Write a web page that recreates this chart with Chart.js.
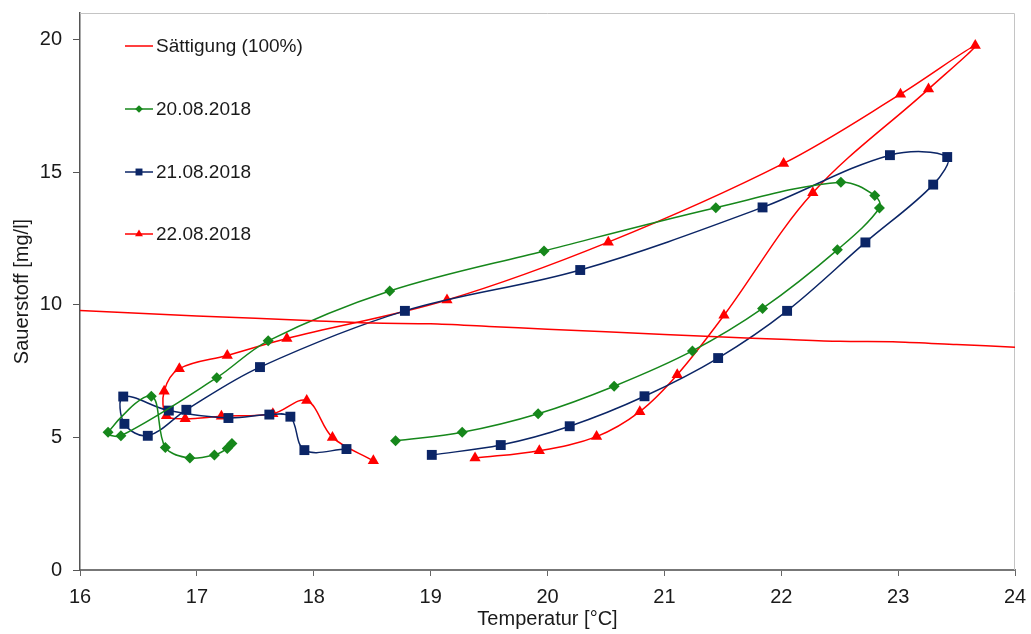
<!DOCTYPE html>
<html>
<head>
<meta charset="utf-8">
<script src="https://cdn.jsdelivr.net/npm/chart.js@4"></script>
<style>
  html, body { margin: 0; padding: 0; background: #fff; }
  #wrap { width: 1031px; height: 634px; position: relative; }
</style>
</head>
<body>
<div id="wrap"><canvas id="myChart"></canvas></div>
<script>
// tick labels
const xTicks = [16, 17, 18, 19, 20, 21, 22, 23, 24];
const yTicks = [0, 5, 10, 15, 20];

// saturation curve (100%)
const satTemp = [16, 17, 18, 18.5, 19, 19.5, 20, 21, 21.5, 22, 22.5, 23, 23.5, 24];
const satO2 = [9.78, 9.58, 9.40, 9.31, 9.28, 9.18, 9.08, 8.88, 8.78, 8.70, 8.62, 8.60, 8.50, 8.40];

// 20.08.2018
const temp20 = [18.70, 19.27, 19.92, 20.57, 21.24, 21.84, 22.48, 22.84, 22.80, 22.51, 21.44, 19.97, 18.65, 17.61, 17.17, 16.35, 16.24, 16.61, 16.73, 16.94, 17.15, 17.26, 17.30];
const o2_20 = [4.87, 5.19, 5.89, 6.93, 8.26, 9.86, 12.07, 13.65, 14.12, 14.62, 13.66, 12.03, 10.52, 8.64, 7.25, 5.06, 5.19, 6.55, 4.62, 4.22, 4.34, 4.58, 4.77];

// 21.08.2018
const temp21 = [19.01, 19.60, 20.19, 20.83, 21.46, 22.05, 22.72, 23.30, 23.42, 22.93, 21.84, 20.28, 18.78, 17.54, 16.91, 16.58, 16.38, 16.37, 16.76, 17.27, 17.62, 17.80, 17.92, 18.28];
const o2_21 = [4.34, 4.71, 5.42, 6.55, 7.99, 9.77, 12.35, 14.53, 15.57, 15.64, 13.67, 11.31, 9.77, 7.65, 6.04, 5.06, 5.51, 6.54, 6.01, 5.73, 5.86, 5.78, 4.52, 4.56];

// 22.08.2018
const temp22 = [19.38, 19.93, 20.42, 20.79, 21.11, 21.51, 22.27, 23.26, 23.66, 23.02, 22.02, 20.52, 19.14, 17.77, 17.26, 16.85, 16.72, 16.74, 16.90, 17.21, 17.65, 17.94, 18.16, 18.51];
const o2_22 = [4.22, 4.50, 5.03, 5.97, 7.36, 9.60, 14.22, 18.13, 19.77, 17.94, 15.33, 12.36, 10.18, 8.73, 8.09, 7.59, 6.74, 5.82, 5.70, 5.80, 5.89, 6.39, 5.00, 4.12];

const FONT = '"Liberation Sans", Arial, sans-serif';
const GREEN = '#16871b';
const BLUE = '#0b2566';
const RED = '#ff0000';

const toXY = (xs, ys) => xs.map((x, i) => ({ x: x, y: ys[i] }));

function marker(ctx, style, x, y, r) {
  ctx.beginPath();
  if (style === 'rect') {
    const s = r * Math.SQRT1_2;
    ctx.rect(x - s, y - s, 2 * s, 2 * s);
  } else if (style === 'rectRot') {
    ctx.moveTo(x, y - r); ctx.lineTo(x + r, y); ctx.lineTo(x, y + r); ctx.lineTo(x - r, y);
    ctx.closePath();
  } else if (style === 'triangle') {
    ctx.moveTo(x, y - r);
    ctx.lineTo(x + r * 0.866, y + r * 0.5);
    ctx.lineTo(x - r * 0.866, y + r * 0.5);
    ctx.closePath();
  }
  ctx.fill();
}

// legend inside the plot, one item per row with wide spacing
const innerLegend = {
  id: 'innerLegend',
  afterDraw(chart) {
    const ctx = chart.ctx;
    const rows = [46, 109, 172, 234];
    ctx.save();
    chart.data.datasets.forEach((ds, i) => {
      const y = rows[i];
      ctx.strokeStyle = ds.borderColor;
      ctx.lineWidth = 1.5;
      ctx.beginPath();
      ctx.moveTo(125, y);
      ctx.lineTo(153, y);
      ctx.stroke();
      if (ds.pointRadius > 0) {
        ctx.fillStyle = ds.pointBackgroundColor;
        marker(ctx, ds.pointStyle, 139, y, ds.pointRadius * 0.7);
      }
      ctx.fillStyle = '#1a1a1a';
      ctx.font = '19px ' + FONT;
      ctx.textBaseline = 'middle';
      ctx.textAlign = 'left';
      ctx.fillText(ds.label, 156, y + 1);
    });
    ctx.restore();
  }
};

// light frame on top and right of the plot area
const frame = {
  id: 'frame',
  beforeDatasetsDraw(chart) {
    const { ctx, chartArea: a } = chart;
    ctx.save();
    ctx.strokeStyle = '#c4c4c4';
    ctx.lineWidth = 1;
    ctx.beginPath();
    ctx.moveTo(a.left, a.top + 0.5);
    ctx.lineTo(a.right - 0.5, a.top + 0.5);
    ctx.lineTo(a.right - 0.5, a.bottom);
    ctx.stroke();
    ctx.restore();
  }
};

const ctx = document.getElementById('myChart').getContext('2d');
const chart = new Chart(ctx, {
  type: 'scatter',
  data: {
    datasets: [
      {
        label: 'Sättigung (100%)',
        data: toXY(satTemp, satO2),
        showLine: true,
        borderColor: RED,
        borderWidth: 1.5,
        pointRadius: 0,
        tension: 0.3
      },
      {
        label: '20.08.2018',
        data: toXY(temp20, o2_20),
        showLine: true,
        borderColor: GREEN,
        backgroundColor: GREEN,
        pointBackgroundColor: GREEN,
        pointBorderWidth: 0,
        borderWidth: 1.5,
        pointStyle: 'rectRot',
        pointRadius: 5.5,
        tension: 0.35
      },
      {
        label: '21.08.2018',
        data: toXY(temp21, o2_21),
        showLine: true,
        borderColor: BLUE,
        backgroundColor: BLUE,
        pointBackgroundColor: BLUE,
        pointBorderWidth: 0,
        borderWidth: 1.5,
        pointStyle: 'rect',
        pointRadius: 7,
        tension: 0.35
      },
      {
        label: '22.08.2018',
        data: toXY(temp22, o2_22),
        showLine: true,
        borderColor: RED,
        backgroundColor: RED,
        pointBackgroundColor: RED,
        pointBorderWidth: 0,
        borderWidth: 1.5,
        pointStyle: 'triangle',
        pointRadius: 6.5,
        tension: 0.35
      }
    ]
  },
  options: {
    responsive: true,
    maintainAspectRatio: false,
    animation: false,
    layout: { padding: { top: 13, right: 16, left: 0, bottom: 0 } },
    plugins: {
      legend: { display: false },
      tooltip: { enabled: false }
    },
    scales: {
      x: {
        type: 'linear',
        min: 16,
        max: 24,
        afterBuildTicks: s => { s.ticks = xTicks.map(v => ({ value: v })); },
        afterFit: s => { s.height = 64; s.paddingLeft = 0; s.paddingRight = 0; },
        grid: { drawOnChartArea: false, drawTicks: true, tickLength: 6, tickColor: '#666' },
        border: { color: '#777', width: 2 },
        ticks: { font: { family: FONT, size: 20 }, color: '#1a1a1a', padding: 9, maxRotation: 0 },
        title: { display: true, text: 'Temperatur [°C]', font: { family: FONT, size: 20 }, color: '#1a1a1a', padding: { top: 0, bottom: 3 } }
      },
      y: {
        type: 'linear',
        min: 0,
        max: 21,
        afterBuildTicks: s => { s.ticks = yTicks.map(v => ({ value: v })); },
        afterFit: s => { s.width = 80; s.paddingTop = 0; s.paddingBottom = 0; },
        grid: { drawOnChartArea: false, drawTicks: true, tickLength: 7, tickColor: '#555' },
        border: { color: '#555', width: 1.5 },
        ticks: { font: { family: FONT, size: 20 }, color: '#1a1a1a', padding: 11 },
        title: { display: true, text: 'Sauerstoff [mg/l]', font: { family: FONT, size: 20 }, color: '#1a1a1a', padding: { top: 10, bottom: 0 } }
      }
    }
  },
  plugins: [frame, innerLegend]
});
</script>
</body>
</html>
